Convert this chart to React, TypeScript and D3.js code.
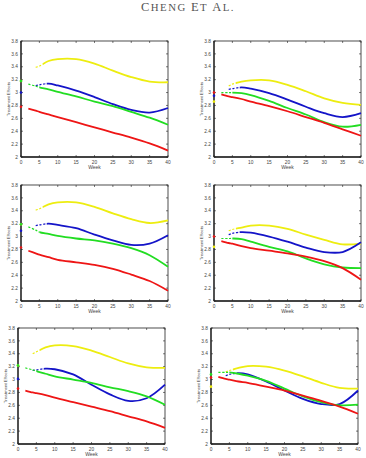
import * as d3 from "d3";

// weeks at which each fitted curve was read
const weeks = [2, 4, 5, 7.5, 10, 15, 20, 25, 30, 35, 40];
const xTicks = [0, 5, 10, 15, 20, 25, 30, 35, 40];
const yTicks = [2, 2.2, 2.4, 2.6, 2.8, 3, 3.2, 3.4, 3.6, 3.8];

// panel 1
const yellow1 = [null, 3.39, 3.41, 3.49, 3.52, 3.52, 3.45, 3.34, 3.24, 3.17, 3.16];
const blue1 = [null, 3.11, 3.12, 3.14, 3.11, 3.03, 2.93, 2.82, 2.73, 2.69, 2.76];
const green1 = [3.13, 3.1, 3.08, 3.05, 3.01, 2.94, 2.86, 2.79, 2.7, 2.61, 2.5];
const red1 = [2.75, 2.72, 2.7, 2.66, 2.62, 2.54, 2.46, 2.38, 2.3, 2.21, 2.1];
const start1 = [3.18, 3.0, 3.18, 2.78];

// panel 2
const yellow2 = [null, 3.1, 3.13, 3.17, 3.19, 3.19, 3.12, 3.02, 2.91, 2.84, 2.81];
const blue2 = [null, 3.05, 3.06, 3.08, 3.06, 2.99, 2.89, 2.78, 2.68, 2.62, 2.68];
const green2 = [3.0, 3.0, 3.0, 2.99, 2.96, 2.87, 2.76, 2.66, 2.54, 2.47, 2.5];
const red2 = [2.97, 2.94, 2.93, 2.9, 2.86, 2.79, 2.71, 2.62, 2.53, 2.43, 2.33];
const start2 = [2.86, 2.95, null, 3.0];

// panel 3
const yellow3 = [null, 3.41, 3.43, 3.5, 3.53, 3.53, 3.46, 3.36, 3.27, 3.21, 3.25];
const blue3 = [null, 3.17, 3.18, 3.2, 3.18, 3.13, 3.03, 2.94, 2.87, 2.89, 3.02];
const green3 = [3.15, 3.1, 3.07, 3.04, 3.01, 2.97, 2.94, 2.89, 2.82, 2.71, 2.53];
const red3 = [2.78, 2.74, 2.72, 2.68, 2.64, 2.6, 2.56, 2.5, 2.41, 2.31, 2.16];
const start3 = [3.19, 3.09, 3.19, 2.83];

// panel 4
const yellow4 = [null, 3.09, 3.11, 3.14, 3.17, 3.17, 3.12, 3.03, 2.95, 2.88, 2.89];
const blue4 = [null, 3.03, 3.05, 3.07, 3.06, 3.0, 2.92, 2.83, 2.76, 2.76, 2.91];
const green4 = [2.97, 2.97, 2.97, 2.96, 2.92, 2.84, 2.77, 2.66, 2.57, 2.52, 2.51];
const red4 = [2.93, 2.9, 2.89, 2.85, 2.82, 2.78, 2.74, 2.69, 2.62, 2.51, 2.33];
const start4 = [2.84, null, null, 3.0];

// panel 5
const yellow5 = [null, 3.4, 3.43, 3.5, 3.53, 3.52, 3.45, 3.35, 3.25, 3.19, 3.18];
const blue5 = [null, 3.14, 3.15, 3.17, 3.16, 3.08, 2.92, 2.77, 2.67, 2.71, 2.92];
const green5 = [3.18, 3.15, 3.13, 3.09, 3.05, 3.0, 2.95, 2.88, 2.82, 2.74, 2.61];
const red5 = [2.83, 2.8, 2.79, 2.76, 2.72, 2.65, 2.58, 2.51, 2.43, 2.35, 2.25];
const start5 = [3.22, 3.01, 3.22, 2.86];

// panel 6
const yellow6 = [null, 3.12, 3.14, 3.18, 3.21, 3.2, 3.14, 3.05, 2.95, 2.87, 2.86];
const blue6 = [null, 3.06, 3.08, 3.1, 3.08, 2.97, 2.83, 2.7, 2.62, 2.62, 2.83];
const green6 = [3.11, 3.11, 3.11, 3.09, 3.06, 2.98, 2.86, 2.74, 2.65, 2.6, 2.61];
const red6 = [3.04, 3.01, 3.0, 2.97, 2.95, 2.89, 2.83, 2.75, 2.67, 2.58, 2.47];
const start6 = [2.89, null, 3.08, 3.03];

// order: yellow, blue, green, red
const colors = ["#eded10", "#1414c8", "#22dd22", "#ee1515"];
const dashUntil = [6, 7, 5, 0];

const panels = [
  { left: 21, top: 41, series: [yellow1, blue1, green1, red1], start: start1 },
  { left: 214, top: 41, series: [yellow2, blue2, green2, red2], start: start2 },
  { left: 21, top: 185, series: [yellow3, blue3, green3, red3], start: start3 },
  { left: 214, top: 185, series: [yellow4, blue4, green4, red4], start: start4 },
  { left: 18, top: 328, series: [yellow5, blue5, green5, red5], start: start5 },
  { left: 211, top: 328, series: [yellow6, blue6, green6, red6], start: start6 },
];

const W = 147;
const H = 116;
const x = d3.scaleLinear().domain([0, 40]).range([0, W]);
const y = d3.scaleLinear().domain([2, 3.8]).range([H, 0]);

const line = d3
  .line<[number, number | null]>()
  .defined((d) => d[1] != null)
  .x((d) => x(d[0]))
  .y((d) => y(d[1] as number))
  .curve(d3.curveCatmullRom.alpha(0.5));

function Panel({ p, idx }: { p: (typeof panels)[number]; idx: number }) {
  const tick = 2;
  return (
    <g transform={`translate(${p.left},${p.top})`}>
      <defs>
        {dashUntil.map((w, i) => (
          <g key={i}>
            <clipPath id={`lead-${idx}-${i}`}>
              <rect x={-2} y={-2} width={x(w) + 2} height={H + 4} />
            </clipPath>
            <clipPath id={`rest-${idx}-${i}`}>
              <rect x={x(w)} y={-2} width={W - x(w) + 2} height={H + 4} />
            </clipPath>
          </g>
        ))}
      </defs>
      <rect width={W} height={H} fill="#fff" stroke="#222" strokeWidth={0.8} />
      {xTicks.map((t) => (
        <g key={"x" + t} transform={`translate(${x(t)},0)`}>
          <line y1={H} y2={H - tick} stroke="#222" strokeWidth={0.6} />
          <line y1={0} y2={tick} stroke="#222" strokeWidth={0.6} />
          <text y={H + 6.5} textAnchor="middle" fontSize={4.8} fill="#444">
            {t}
          </text>
        </g>
      ))}
      {yTicks.map((t) => (
        <g key={"y" + t} transform={`translate(0,${y(t)})`}>
          <line x1={0} x2={tick} stroke="#222" strokeWidth={0.6} />
          <line x1={W} x2={W - tick} stroke="#222" strokeWidth={0.6} />
          <text x={-3} dy="0.35em" textAnchor="end" fontSize={4.8} fill="#444">
            {d3.format("~g")(t)}
          </text>
        </g>
      ))}
      <line x1={0} x2={0} y1={0} y2={H} stroke="#222" strokeWidth={1.3} />
      <line x1={0} x2={W} y1={H} y2={H} stroke="#222" strokeWidth={1.3} />
      {p.series.map((vals, i) => {
        const pts = weeks.map((w, k) => [w, vals[k]] as [number, number | null]);
        const d = line(pts) || "";
        return (
          <g key={i}>
            <path
              d={d}
              fill="none"
              stroke={colors[i]}
              strokeWidth={1.2}
              strokeDasharray="2.2,1.6"
              clipPath={`url(#lead-${idx}-${i})`}
            />
            <path
              d={d}
              fill="none"
              stroke={colors[i]}
              strokeWidth={1.8}
              clipPath={`url(#rest-${idx}-${i})`}
            />
          </g>
        );
      })}
      {p.start.map((v, i) =>
        v == null ? null : (
          <circle key={"s" + i} cx={x(0)} cy={y(v)} r={1.3} fill={colors[i]} />
        )
      )}
      <text x={W / 2} y={H + 11.5} textAnchor="middle" fontSize={5} fill="#444">
        Week
      </text>
      <text
        transform={`translate(-11,${H / 2}) rotate(-90)`}
        textAnchor="middle"
        fontSize={4.4}
        fill="#444"
      >
        Treatment Effects
      </text>
    </g>
  );
}

export default function App() {
  return (
    <svg
      width={366}
      height={458}
      style={{ position: "absolute", left: 0, top: 0, background: "#fff" }}
      fontFamily="'Liberation Sans', Arial, sans-serif"
    >
      <text
        x={188}
        y={11}
        textAnchor="middle"
        fontFamily="'Liberation Serif', 'DejaVu Serif', serif"
        fill="#555"
        letterSpacing={1.5}
      >
        <tspan fontSize={12.5}>C</tspan>
        <tspan fontSize={10.8}>HENG </tspan>
        <tspan fontSize={12.5}>E</tspan>
        <tspan fontSize={10.8}>T </tspan>
        <tspan fontSize={12.5}>A</tspan>
        <tspan fontSize={10.8}>L.</tspan>
      </text>
      {panels.map((p, i) => (
        <Panel key={i} p={p} idx={i} />
      ))}
    </svg>
  );
}
